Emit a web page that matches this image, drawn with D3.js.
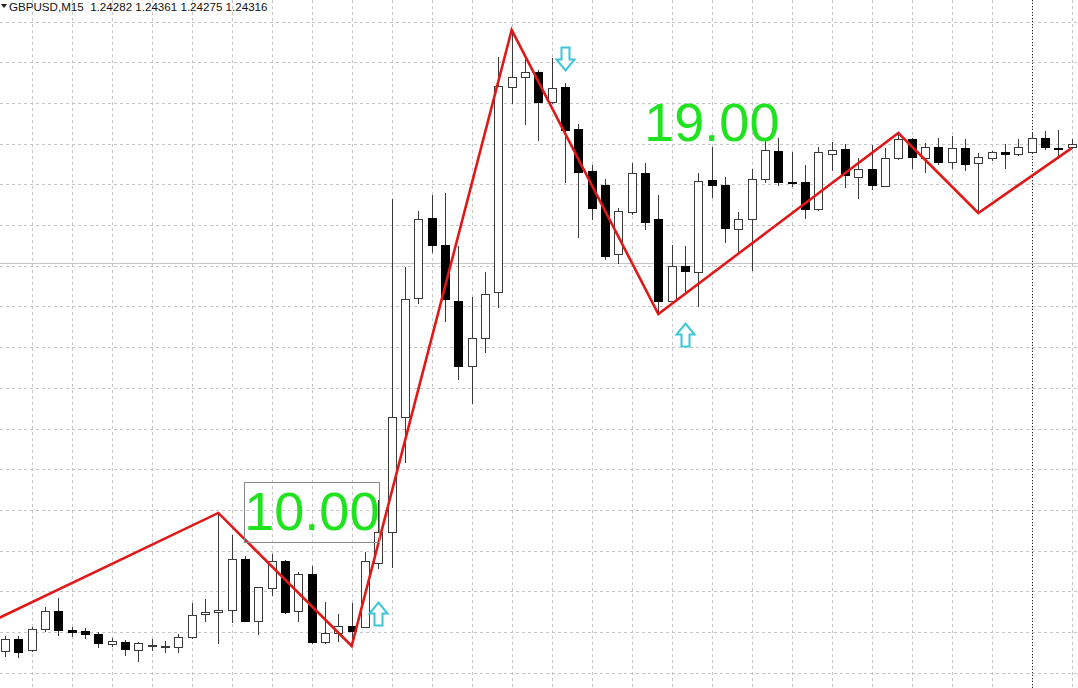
<!DOCTYPE html>
<html><head><meta charset="utf-8">
<script src="https://cdn.jsdelivr.net/npm/d3@7"></script>
<style>html,body{margin:0;padding:0;background:#fff;overflow:hidden}</style>
</head><body>
<svg id="c" width="1078" height="688"></svg>
<script>
// ---- data ----
const symbolTitle = "GBPUSD,M15  1.24282 1.24361 1.24275 1.24316";
const opens  = [1.19333,1.19451,1.19343,1.19550,1.19726,1.19540,1.19530,1.19500,1.19402,1.19422,
                1.19343,1.19382,1.19373,1.19373,1.19471,1.19697,1.19717,1.19736,1.20237,1.19628,
                1.19952,1.20218,1.19726,1.20090,1.19422,1.19510,1.19579,1.19569,1.20198,1.20503,
                1.21633,1.22803,1.23589,1.23323,1.22773,1.22134,1.22409,1.22862,1.24876,1.24975,
                1.25024,1.24729,1.24876,1.24464,1.24051,1.23913,1.23235,1.23648,1.24031,1.23579,
                1.22773,1.23117,1.23058,1.23962,1.23913,1.23481,1.23579,1.23972,1.24247,1.23943,
                1.23943,1.23677,1.24218,1.24267,1.23992,1.24070,1.23903,1.24179,1.24365,1.24179,
                1.24287,1.24139,1.24277,1.24129,1.24179,1.24237,1.24218,1.24237,1.24375,1.24277,
                1.24282];
const highs  = [1.19481,1.19481,1.19569,1.19766,1.19854,1.19569,1.19559,1.19520,1.19461,1.19441,
                1.19422,1.19451,1.19432,1.19500,1.19805,1.19844,1.20690,1.20473,1.20267,1.19962,
                1.20287,1.20228,1.20110,1.20169,1.19815,1.19697,1.19805,1.20306,1.20817,1.23776,
                1.23107,1.23658,1.23815,1.23834,1.23314,1.22812,1.23058,1.25171,1.25437,1.25151,
                1.25043,1.25161,1.24916,1.24513,1.24110,1.23972,1.23687,1.24129,1.24129,1.23815,
                1.23323,1.23314,1.24031,1.24287,1.23992,1.23648,1.24070,1.24355,1.24375,1.24237,
                1.24110,1.24287,1.24336,1.24316,1.24179,1.24306,1.24277,1.24424,1.24375,1.24326,
                1.24375,1.24395,1.24365,1.24228,1.24247,1.24316,1.24365,1.24424,1.24444,1.24454,
                1.24361];
const lows   = [1.19284,1.19274,1.19333,1.19530,1.19491,1.19481,1.19461,1.19373,1.19382,1.19294,
                1.19235,1.19343,1.19323,1.19323,1.19461,1.19628,1.19412,1.19618,1.19628,1.19500,
                1.19884,1.19707,1.19628,1.19412,1.19412,1.19432,1.19382,1.19569,1.20149,1.20159,
                1.21191,1.22753,1.23255,1.22577,1.22007,1.21771,1.22272,1.22714,1.24719,1.24513,
                1.24355,1.24719,1.23943,1.23402,1.23579,1.23186,1.23147,1.23628,1.23481,1.22645,
                1.22773,1.22852,1.22724,1.23795,1.23353,1.23255,1.23078,1.23943,1.23913,1.23903,
                1.23589,1.23667,1.24061,1.23894,1.23785,1.23874,1.23903,1.24169,1.24080,1.24041,
                1.24120,1.24080,1.24061,1.23638,1.24159,1.24080,1.24208,1.24237,1.24267,1.24179,
                1.24275];
const closes = [1.19451,1.19323,1.19550,1.19726,1.19540,1.19520,1.19500,1.19412,1.19432,1.19353,
                1.19412,1.19392,1.19382,1.19471,1.19687,1.19717,1.19736,1.20237,1.19628,1.19962,
                1.20218,1.19717,1.20090,1.19422,1.19510,1.19579,1.19530,1.20218,1.20503,1.21633,
                1.22793,1.23579,1.23323,1.22793,1.22134,1.22409,1.22842,1.24886,1.24975,1.25024,
                1.24729,1.24866,1.24454,1.24041,1.23687,1.23215,1.23658,1.24031,1.23550,1.22773,
                1.23117,1.23068,1.23952,1.23913,1.23491,1.23579,1.23972,1.24257,1.23943,1.23933,
                1.23677,1.24237,1.24257,1.24011,1.24070,1.23913,1.24179,1.24365,1.24188,1.24287,
                1.24139,1.24277,1.24120,1.24188,1.24237,1.24218,1.24287,1.24375,1.24287,1.24267,
                1.24316];
const priceTicks = [1.2552,1.2512,1.2472,1.2432,1.2392,1.2352,1.2312,1.2272,1.2232,
                    1.2192,1.2152,1.2112,1.2072,1.2032,1.1992,1.1952,1.1912];
const timeGridBars = [2,5,8,11,14,17,20,23,26,29,32,35,38,41,44,47,50,53,56,59,62,65,68,71,74,77,80];
const separatorBar = 77;
const hLinePrice = 1.2315;
const zigzagBars   = [-5, 16, 26, 38, 49, 67, 73, 80];
const zigzagPrices = [1.19373, 1.20690, 1.19382, 1.25437, 1.22645, 1.24424, 1.23638, 1.24275];
const signalBars   = [28, 42, 51];
const signalDirs   = ["up", "down", "up"];
const signalPrices = [1.19815, 1.25043, 1.22557];
const labelTexts   = ["10.00", "19.00"];
const labelBars    = [18, 48];
const labelPrices  = [1.20994, 1.24817];
const labelBoxed   = [true, false];

// ---- drawing ----
const W = 1078, H = 688;
const svg = d3.select("#c");
const x = d3.scaleLinear().domain([0, 80]).range([5, 1071.67]);
const y = d3.scaleLinear().domain([1.1912, 1.2552]).range([672.7, 21.5]);
const px = v => Math.round(v) + 0.5;

const g = svg.append("g");
// horizontal grid
g.selectAll("line.hg").data(priceTicks).join("line")
  .attr("x1", 0).attr("x2", W)
  .attr("y1", d => px(y(d))).attr("y2", d => px(y(d)))
  .attr("stroke", "#c6c6c6").attr("stroke-dasharray", "3,3").attr("shape-rendering", "crispEdges");
// vertical grid
g.selectAll("line.vg").data(timeGridBars).join("line")
  .attr("y1", 0).attr("y2", H)
  .attr("x1", d => px(x(d))).attr("x2", d => px(x(d)))
  .attr("stroke", "#c6c6c6").attr("stroke-dasharray", "3,3").attr("shape-rendering", "crispEdges");
// period separator
g.append("line").attr("y1", 0).attr("y2", H)
  .attr("x1", px(x(separatorBar))).attr("x2", px(x(separatorBar)))
  .attr("stroke", "#222").attr("stroke-dasharray", "1,2").attr("shape-rendering", "crispEdges");
// horizontal line
g.append("line").attr("x1", 0).attr("x2", W)
  .attr("y1", px(y(hLinePrice))).attr("y2", px(y(hLinePrice)))
  .attr("stroke", "#c4c4c4").attr("shape-rendering", "crispEdges");

// candles
const bars = d3.range(opens.length).map(i => ({i, o: opens[i], h: highs[i], l: lows[i], c: closes[i]}));
const cg = svg.append("g").attr("shape-rendering", "crispEdges");
cg.selectAll("line.wick").data(bars).join("line")
  .attr("x1", d => px(x(d.i))).attr("x2", d => px(x(d.i)))
  .attr("y1", d => Math.round(y(d.h))).attr("y2", d => Math.round(y(d.l)) + 1)
  .attr("stroke", "#3a3a3a");
cg.selectAll("rect.body").data(bars).join("rect")
  .attr("x", d => Math.round(x(d.i)) - 4 + 0.5)
  .attr("y", d => Math.round(y(Math.max(d.o, d.c))) + 0.5)
  .attr("width", 8)
  .attr("height", d => Math.max(0, Math.round(y(Math.min(d.o, d.c))) - Math.round(y(Math.max(d.o, d.c)))))
  .attr("fill", d => d.c >= d.o ? "#fff" : "#000")
  .attr("stroke", d => d.c >= d.o ? "#3a3a3a" : "#000");

// zigzag
const zz = zigzagBars.map((b, k) => [x(b), y(zigzagPrices[k])]);
svg.append("path").attr("d", d3.line()(zz))
  .attr("fill", "none").attr("stroke", "#e01818").attr("stroke-width", 2.6)
  .attr("stroke-linejoin", "miter");

// signal arrows
function arrowPath(cx, tip, dir) {
  const s = dir === "up" ? 1 : -1;
  const pts = [[0,0],[9,11],[4,11],[4,23],[-4,23],[-4,11],[-9,11]];
  return "M" + pts.map(p => [cx + p[0], tip + s * p[1]].join(",")).join("L") + "Z";
}
svg.selectAll("path.sig").data(signalBars).join("path")
  .attr("d", (b, k) => arrowPath(Math.round(x(b)) + 0.5, Math.round(y(signalPrices[k])) + 0.5, signalDirs[k]))
  .attr("fill", "#fff").attr("stroke", "#3cc6d8").attr("stroke-width", 2)
  .attr("stroke-linejoin", "miter");

// text labels
labelTexts.forEach((t, k) => {
  const lx = x(labelBars[k]) - 0.7, ly = y(labelPrices[k]);
  const txt = svg.append("text").attr("x", lx).attr("y", ly + 48)
    .attr("font-family", "'Liberation Sans', Arial, sans-serif").attr("font-size", 54)
    .attr("fill", "#1ee31e").text(t);
  if (labelBoxed[k]) {
    const w = txt.node().getComputedTextLength();
    svg.insert("rect", "text").attr("x", Math.round(lx) + 0.5).attr("y", Math.round(ly) + 0.5)
      .attr("width", Math.round(w)).attr("height", 60)
      .attr("fill", "none").attr("stroke", "#8a8a8a").attr("shape-rendering", "crispEdges");
  }
});

// title
svg.append("path").attr("d", "M1,4L7,4L4,8Z").attr("fill", "#222");
svg.append("text").attr("x", 9).attr("y", 10.5)
  .attr("font-family", "'Liberation Sans', Arial, sans-serif").attr("font-size", 11.6)
  .attr("fill", "#111").style("white-space", "pre").text(symbolTitle);
</script>
</body></html>
